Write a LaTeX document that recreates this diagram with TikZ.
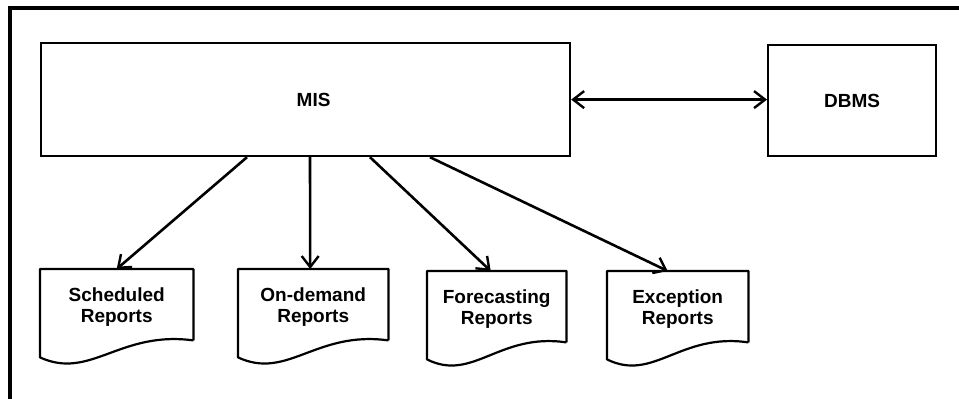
\documentclass[tikz,border=0pt]{standalone}
\usepackage{fontspec}
\setmainfont{Liberation Sans}
\usetikzlibrary{arrows.meta,calc}

\tikzset{
  box/.style={draw, line width=2.2pt, rectangle, inner sep=0pt},
  labelfont/.style={font=\fontsize{19}{21}\selectfont\bfseries},
  docu/.style={rectangle, inner sep=0pt, align=center, minimum height=76pt, labelfont},
  docline/.style={line width=2.2pt, line join=round},
  barb/.tip={Straight Barb[length=11pt,width=17pt,line width=2.4pt]},
  link/.style={line width=2.6pt, -barb},
  twoway/.style={line width=2.6pt, barb-barb},
  frameline/.style={line width=3.2pt}
}

% document outline: flat top and sides, wavy bottom edge
\newcommand{\docshape}[2]{%
  \draw[docline] ($(#1.south east)+(0,-5)$) -- (#1.north east) -- (#1.north west)
    -- ($(#1.south west)+(0,12)$)
    .. controls ($(#1.south west)+(0.33*#2,35)$) and ($(#1.south west)+(0.52*#2,-15)$)
    .. ($(#1.south east)+(0,-5)$);%
}

\begin{document}
\begin{tikzpicture}[x=1pt,y=-1pt]
  \useasboundingbox (0,0) rectangle (959,399);

  % outer frame
  \draw[frameline] (959,8) -- (10,8) -- (10,399);

  % main boxes
  \node[box, minimum width=529pt, minimum height=113pt, anchor=north west,
        label={[xshift=8pt,labelfont]center:MIS}]
        (mis) at (40,42) {};
  \node[box, minimum width=168pt, minimum height=111pt, anchor=north west,
        labelfont] (dbms) at (767,44) {DBMS};

  % report documents
  \node[docu, minimum width=153pt, anchor=north west] (sched) at (40,269) {Scheduled\\Reports};
  \node[docu, minimum width=150pt, anchor=north west] (ondem) at (238,269) {On-demand\\Reports};
  \node[docu, minimum width=139pt, anchor=north west] (fore) at (427,271) {Forecasting\\Reports};
  \node[docu, minimum width=141pt, anchor=north west] (exce) at (607,271) {Exception\\Reports};

  \docshape{sched}{153}
  \docshape{ondem}{150}
  \docshape{fore}{139}
  \docshape{exce}{141}

  % connectors
  \draw[twoway] (mis.east) -- (mis.east -| dbms.west);
  \draw[link] ($(mis.south west)+(207,0)$) -- (sched.north);
  \draw[link] ($(mis.south west)+(270,0)$) -- ($(ondem.north)+(-3,0)$);
  \draw[link] ($(mis.south west)+(330,0)$) -- ($(fore.north)+(-6,0)$);
  \draw[link] ($(mis.south west)+(390,0)$) -- ($(exce.north)+(-10,0)$);
\end{tikzpicture}
\end{document}
